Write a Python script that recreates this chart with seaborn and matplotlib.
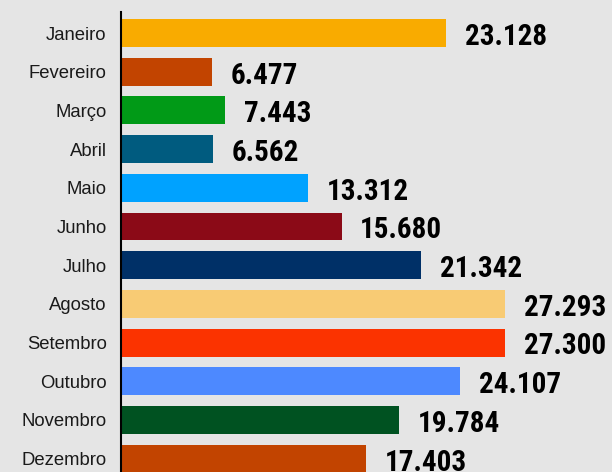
import numpy as np
import pandas as pd
import matplotlib
matplotlib.use("Agg")
import matplotlib.pyplot as plt
import seaborn as sns

# --- Data ---
meses = ["Janeiro", "Fevereiro", "Março", "Abril", "Maio", "Junho",
         "Julho", "Agosto", "Setembro", "Outubro", "Novembro", "Dezembro"]
valores = [23128, 6477, 7443, 6562, 13312, 15680,
           21342, 27293, 27300, 24107, 19784, 17403]
cores = ["#f9ab00", "#c24400", "#019a17", "#005b7f", "#00a2ff", "#8b0a17",
         "#003067", "#f8cb74", "#fb3300", "#4d89ff", "#005221", "#c24400"]

df = pd.DataFrame({"mes": meses, "valor": valores})

BG = "#e5e5e5"

sns.set_style("white")
plt.rcParams["font.family"] = ["Liberation Sans", "DejaVu Sans"]

fig = plt.figure(figsize=(6.12, 4.72), dpi=100, facecolor=BG)
ax = fig.add_axes([120.5 / 612, 0, (612 - 120.5) / 612, 460 / 472])
ax.set_facecolor(BG)

sns.barplot(data=df, y="mes", x="valor", hue="mes", palette=cores,
            orient="h", width=0.72, legend=False, ax=ax, saturation=1,
            linewidth=0)

ax.set_xlim(0, 34871)
ax.set_ylim(11.344, -0.543)

# value labels (condensed bold numbers, pt-BR thousands separator)
for i, v in enumerate(valores):
    txt = f"{v:,}".replace(",", ".")
    ax.annotate(txt, xy=(v, i), xytext=(13.5, -2.8), textcoords="offset points",
                ha="left", va="center", fontsize=21, fontweight="bold",
                fontstretch="condensed",
                family=["Roboto Condensed", "DejaVu Sans"], color="#000000",
                annotation_clip=False)

for s in ["top", "right", "bottom"]:
    ax.spines[s].set_visible(False)
ax.spines["left"].set_color("#000000")
ax.spines["left"].set_linewidth(1.5)

ax.set_xticks([])
ax.set_xlabel("")
ax.set_ylabel("")
ax.tick_params(axis="y", length=0, pad=10, labelsize=13.3, labelcolor="#1a1a1a")

fig.savefig("out.png", dpi=100, facecolor=BG)
